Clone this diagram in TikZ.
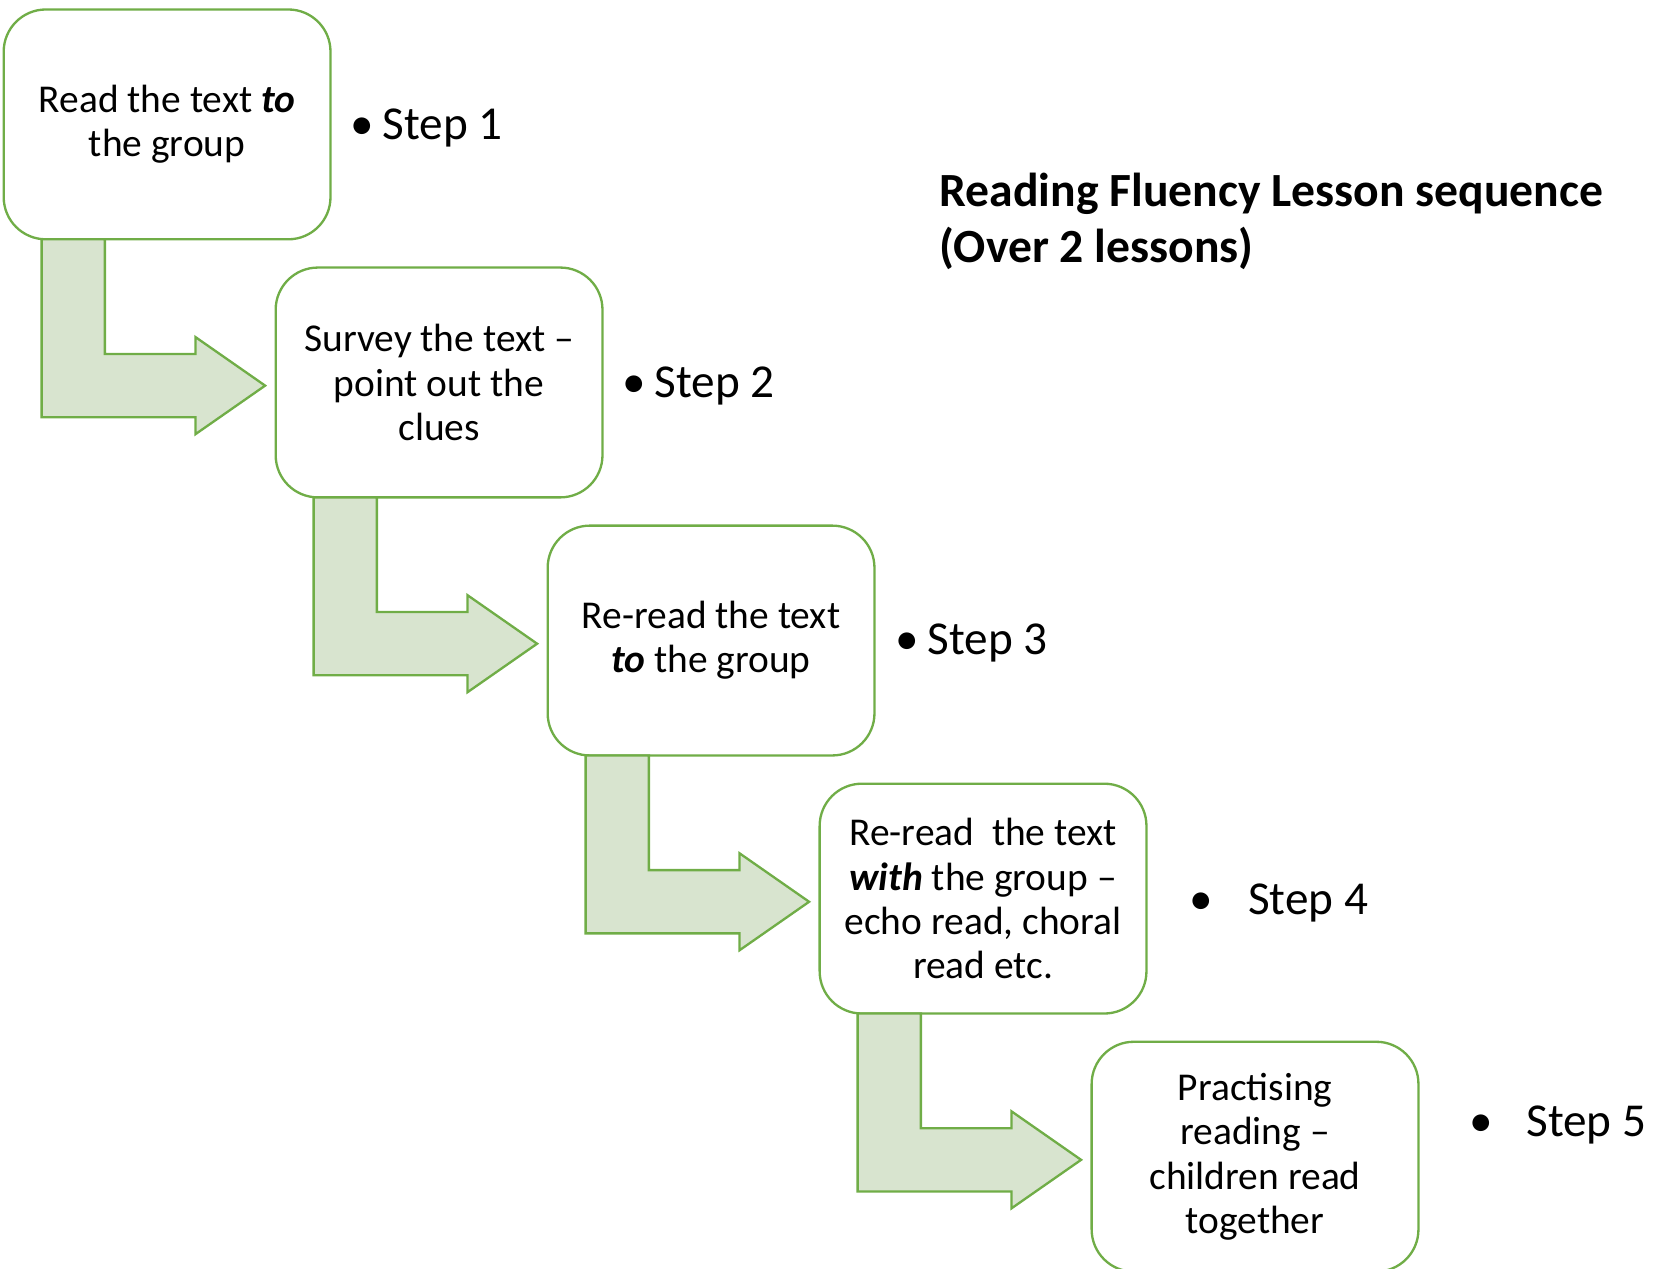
\documentclass[tikz,border=0pt]{standalone}
\usepackage{fontspec}
\setmainfont{Carlito}
\usetikzlibrary{positioning, calc}
\definecolor{leafgreen}{HTML}{70AD47}
\definecolor{palegreen}{HTML}{D8E4CF}

\begin{document}
\begin{tikzpicture}[x=0.5pt, y=0.5pt, node distance=13.4pt and -26pt,
    stepbox/.style={draw=leafgreen, line width=1.1pt, rounded corners=20pt, fill=white, outer sep=0pt,
        minimum width=155pt, minimum height=109pt, align=center, font=\fontsize{18.7}{21}\selectfont},
    flow/.style={draw=leafgreen, line width=1.1pt, fill=palegreen},
    steplabel/.style={inner sep=0pt, font=\fontsize{22.4}{26}\selectfont}]
    \useasboundingbox (0,0) rectangle (1568,-1203);

    % the five steps, going down to the right
    \node (s1) [stepbox] at (158.5,-118) {Read the text \textbf{\textit{to}}\\the group};
    \node (s2) [stepbox, below right=of s1] {Survey the text --\\point out the\\clues};
    \node (s3) [stepbox, below right=of s2] {Re-read the text\\\textbf{\textit{to}} the group};
    \node (s4) [stepbox, below right=of s3] {Re-read\ \ the text\\\textbf{\textit{with}} the group --\\echo read, choral\\read etc.};
    \node (s5) [stepbox, below right=of s4] {Practising\\reading --\\children read\\together};

    % bullets beside the boxes
    \node (l1) [steplabel, right=9.5pt of s1, yshift=-1.5pt] {\makebox[15pt][l]{•}Step 1};
    \node (l2) [steplabel, right=9.5pt of s2, yshift=-1.5pt] {\makebox[15pt][l]{•}Step 2};
    \node (l3) [steplabel, right=10pt of s3, yshift=-1pt] {\makebox[15pt][l]{•}Step 3};
    \node (l4) [steplabel, right=20pt of s4, yshift=-2pt] {\makebox[28pt][l]{•}Step 4};
    \node (l5) [steplabel, right=24pt of s5, yshift=15pt] {\makebox[27pt][l]{•}Step 5};

    \node (title) [anchor=north west, align=left, inner sep=0pt,
        font=\fontsize{22.6}{26.5}\selectfont\bfseries] at (891,-164)
        {Reading Fluency Lesson sequence\\(Over 2 lessons)};

    % bent arrows between the boxes
    \draw[flow] ($(s1.south west)+(36,0)$) -- ++(60,0) |- ($(s2.west)+(-76,27)$) -- ++(0,16)
        -- ($(s2.west)+(-10,-3)$) -- ($(s2.west)+(-76,-49)$) -- ++(0,16) -| ($(s1.south west)+(36,0)$) -- cycle;
    \draw[flow] ($(s2.south west)+(36,0)$) -- ++(60,0) |- ($(s3.west)+(-76,27)$) -- ++(0,16)
        -- ($(s3.west)+(-10,-3)$) -- ($(s3.west)+(-76,-49)$) -- ++(0,16) -| ($(s2.south west)+(36,0)$) -- cycle;
    \draw[flow] ($(s3.south west)+(36,0)$) -- ++(60,0) |- ($(s4.west)+(-76,27)$) -- ++(0,16)
        -- ($(s4.west)+(-10,-3)$) -- ($(s4.west)+(-76,-49)$) -- ++(0,16) -| ($(s3.south west)+(36,0)$) -- cycle;
    \draw[flow] ($(s4.south west)+(36,0)$) -- ++(60,0) |- ($(s5.west)+(-76,27)$) -- ++(0,16)
        -- ($(s5.west)+(-10,-3)$) -- ($(s5.west)+(-76,-49)$) -- ++(0,16) -| ($(s4.south west)+(36,0)$) -- cycle;
\end{tikzpicture}
\end{document}
